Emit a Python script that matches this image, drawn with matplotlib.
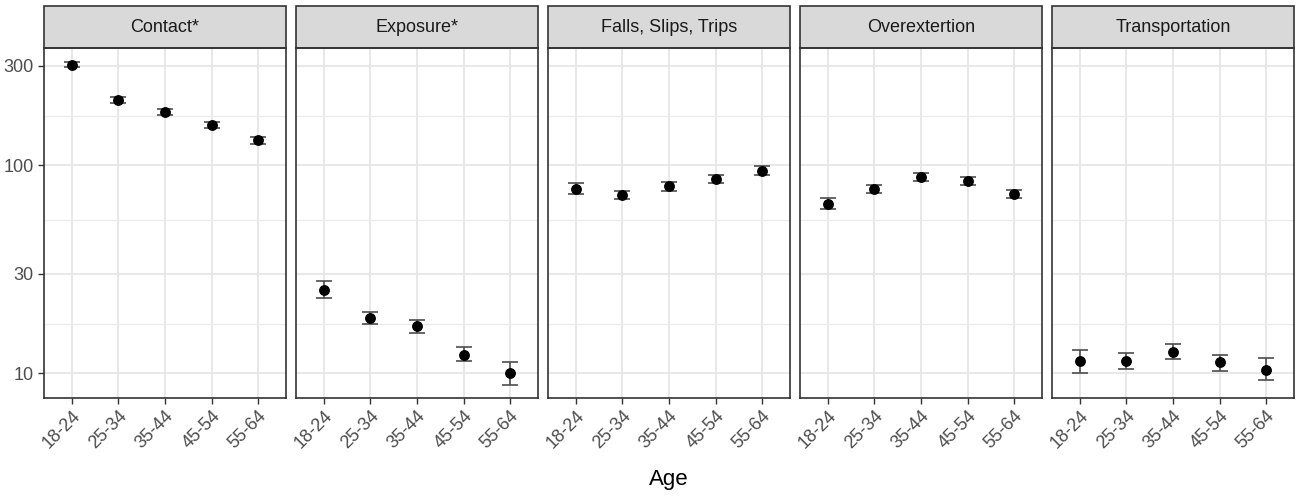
import numpy as np
import matplotlib
matplotlib.use("Agg")
from matplotlib import pyplot as plt
from matplotlib.patches import Rectangle
from matplotlib.ticker import FixedLocator, NullFormatter

plt.rcParams['font.family'] = ['Liberation Sans', 'DejaVu Sans']

ages = ["18-24", "25-34", "35-44", "45-54", "55-64"]
panels = ["Contact*", "Exposure*", "Falls, Slips, Trips", "Overextertion", "Transportation"]

# point estimates, lower and upper bounds per panel
contact = [303, 206, 180, 156, 132]
contact_lo = [295, 200, 175, 151, 127]
contact_hi = [312, 212, 186, 161, 137]

exposure = [25.2, 18.4, 16.8, 12.3, 10.0]
exposure_lo = [23.0, 17.3, 15.6, 11.4, 8.75]
exposure_hi = [27.7, 19.6, 18.1, 13.4, 11.3]

falls = [76.9, 72.0, 79.3, 85.9, 94.3]
falls_lo = [72.8, 68.9, 75.5, 81.9, 89.8]
falls_hi = [81.9, 75.2, 82.8, 89.5, 98.6]

overext = [65.2, 76.9, 87.5, 84.1, 72.6]
overext_lo = [61.6, 73.6, 83.8, 80.4, 69.2]
overext_hi = [69.4, 80.4, 91.8, 88.2, 76.4]

transport = [11.5, 11.5, 12.7, 11.3, 10.4]
transport_lo = [10.0, 10.5, 11.7, 10.3, 9.25]
transport_hi = [13.0, 12.5, 13.8, 12.3, 11.8]

series = [
    (contact, contact_lo, contact_hi),
    (exposure, exposure_lo, exposure_hi),
    (falls, falls_lo, falls_hi),
    (overext, overext_lo, overext_hi),
    (transport, transport_lo, transport_hi),
]

y_breaks = [10, 30, 100, 300]
y_minor = [np.sqrt(10 * 30), np.sqrt(30 * 100), np.sqrt(100 * 300)]

fig = plt.figure(figsize=(12.96, 5), dpi=100)
W, H = 1296.0, 500.0
left0, pw, gap = 44, 242, 10
top, bottom = 48, 398
strip_h = 42

x = np.arange(len(ages))
axes = []
for i, (name, (val, lo, hi)) in enumerate(zip(panels, series)):
    l = left0 + i * (pw + gap)
    ax = fig.add_axes([l / W, 1 - bottom / H, pw / W, (bottom - top) / H])
    axes.append(ax)
    ax.set_yscale("log")
    ax.set_ylim(7.6, 366)
    ax.set_xlim(-0.6, 4.6)

    val = np.array(val)
    err = np.array([val - np.array(lo), np.array(hi) - val])
    ax.errorbar(x, val, yerr=err, fmt="none", ecolor="#4d4d4d", elinewidth=1.2,
                capsize=6, capthick=1.2, zorder=3)
    ax.plot(x, val, "o", color="black", markersize=6.8, zorder=4)

    ax.yaxis.set_major_locator(FixedLocator(y_breaks))
    ax.yaxis.set_minor_locator(FixedLocator(y_minor))
    ax.yaxis.set_minor_formatter(NullFormatter())
    ax.set_xticks(x)
    ax.set_xticklabels(ages, rotation=45, ha="right", va="top",
                       rotation_mode="anchor", fontsize=13, color="#4d4d4d")
    if i == 0:
        ax.set_yticklabels([str(b) for b in y_breaks], fontsize=13, color="#4d4d4d")
    else:
        ax.tick_params(axis="y", which="major", left=False, labelleft=False)
    ax.tick_params(axis="y", which="minor", left=False)
    ax.tick_params(axis="both", which="major", length=4, color="#333333", width=1)
    ax.tick_params(axis="x", pad=3)

    ax.grid(True, which="major", color="#e6e6e6", linewidth=1.3, zorder=0)
    ax.grid(True, which="minor", axis="y", color="#ebebeb", linewidth=0.9, zorder=0)
    ax.set_axisbelow(True)
    for s in ax.spines.values():
        s.set_color("#333333")
        s.set_linewidth(1.2)

    sh = strip_h / (bottom - top)
    rect = Rectangle((0, 1), 1, sh, transform=ax.transAxes, facecolor="#d9d9d9",
                     edgecolor="#333333", linewidth=1.2, clip_on=False)
    ax.add_patch(rect)
    ax.text(0.5, 1 + sh / 2, name, transform=ax.transAxes, ha="center", va="center",
            fontsize=13, color="#1a1a1a")

fig.text((left0 + (5 * pw + 4 * gap) / 2) / W, 1 - 479 / H, "Age", ha="center",
         va="center", fontsize=16, color="black")

fig.savefig("out.png", dpi=100)
